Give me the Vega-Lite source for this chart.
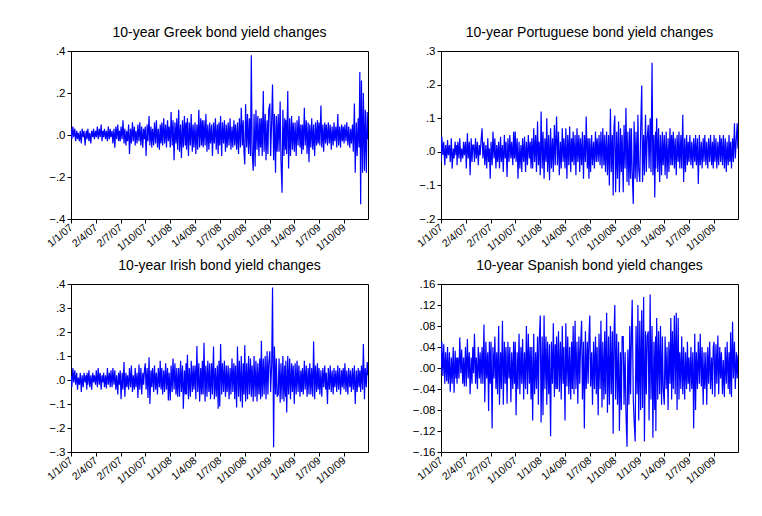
{
"$schema": "https://vega.github.io/schema/vega-lite/v6.json",
"padding": {"left": 44, "top": 25, "right": 5, "bottom": 5},
"background": "white",
"config": {
  "font": "Liberation Sans",
  "view": {"stroke": "black", "strokeWidth": 1},
  "axis": {"grid": false, "domain": false, "tickColor": "black", "tickSize": 4, "labelColor": "black", "labelFont": "Liberation Sans", "labelPadding": 2},
  "axisX": {"labelAngle": -40, "labelAlign": "right", "labelBaseline": "middle", "labelFontSize": 10.5, "labelPadding": 3, "labelOverlap": false, "labelFlush": false, "labelBound": false},
  "axisY": {"labelFontSize": 11.5},
  "title": {"fontSize": 14, "fontWeight": "normal", "color": "black", "offset": 5, "font": "Liberation Sans"},
  "line": {"color": "#0000FF", "strokeWidth": 1.2}
},
"columns": 2,
"spacing": {"row": 4, "column": 42},
"data": {"values": [
{"d":"2007-01-01","g":0.03,"p":-0.03,"i":0.02,"s":-0.01},
{"d":"2007-01-04","g":-0.02,"p":0.045,"i":-0.03,"s":0.05},
{"d":"2007-01-08","g":0.04,"p":-0.01,"i":0.05,"s":-0.015},
{"d":"2007-01-11","g":-0.01,"p":0.03,"i":-0.01,"s":0.045},
{"d":"2007-01-15","g":0.03,"p":-0.04,"i":0.04,"s":-0.03},
{"d":"2007-01-18","g":-0.03,"p":0.02,"i":-0.02,"s":0.03},
{"d":"2007-01-22","g":0.02,"p":-0.02,"i":0.03,"s":-0.025},
{"d":"2007-01-25","g":-0.02,"p":0.035,"i":-0.04,"s":0.04},
{"d":"2007-01-28","g":0.01,"p":-0.01,"i":0.01,"s":-0.03},
{"d":"2007-02-01","g":-0.03,"p":0.02,"i":-0.02,"s":0.03},
{"d":"2007-02-04","g":0.02,"p":-0.03,"i":0.03,"s":-0.045},
{"d":"2007-02-08","g":-0.04,"p":0.04,"i":-0.05,"s":0.02},
{"d":"2007-02-11","g":0.03,"p":-0.05,"i":0.02,"s":-0.03},
{"d":"2007-02-15","g":-0.01,"p":0.01,"i":-0.03,"s":0.04},
{"d":"2007-02-18","g":0.02,"p":-0.02,"i":0.03,"s":-0.047},
{"d":"2007-02-22","g":-0.05,"p":0.03,"i":-0.01,"s":0.033},
{"d":"2007-02-25","g":0.01,"p":-0.01,"i":0.02,"s":-0.02},
{"d":"2007-02-28","g":0.02,"p":0.02,"i":-0.04,"s":0.02},
{"d":"2007-03-01","g":-0.02,"p":-0.04,"i":0.03,"s":-0.03},
{"d":"2007-03-04","g":0.03,"p":0.03,"i":-0.02,"s":0.02},
{"d":"2007-03-08","g":-0.03,"p":-0.02,"i":0.04,"s":-0.02},
{"d":"2007-03-11","g":0.01,"p":0.04,"i":-0.03,"s":0.058},
{"d":"2007-03-15","g":-0.04,"p":-0.03,"i":0.02,"s":-0.01},
{"d":"2007-03-18","g":0.02,"p":0.01,"i":-0.04,"s":0.035},
{"d":"2007-03-22","g":-0.01,"p":-0.02,"i":0.03,"s":-0.03},
{"d":"2007-03-25","g":0.03,"p":0.03,"i":-0.01,"s":0.02},
{"d":"2007-03-28","g":-0.02,"p":-0.01,"i":0.02,"s":-0.035},
{"d":"2007-04-01","g":0.02,"p":0.03,"i":-0.02,"s":0.04},
{"d":"2007-04-04","g":-0.01,"p":-0.05,"i":0.04,"s":-0.035},
{"d":"2007-04-08","g":0.04,"p":0.055,"i":-0.03,"s":0.055},
{"d":"2007-04-11","g":-0.02,"p":-0.02,"i":0.05,"s":-0.02},
{"d":"2007-04-15","g":0.03,"p":0.03,"i":-0.02,"s":0.03},
{"d":"2007-04-18","g":-0.01,"p":-0.07,"i":0.03,"s":-0.05},
{"d":"2007-04-22","g":0.05,"p":0.04,"i":-0.04,"s":0.02},
{"d":"2007-04-25","g":-0.03,"p":-0.03,"i":0.02,"s":-0.03},
{"d":"2007-04-28","g":0.02,"p":0.02,"i":-0.01,"s":0.04},
{"d":"2007-05-01","g":-0.01,"p":0.02,"i":0.03,"s":-0.01},
{"d":"2007-05-04","g":0.03,"p":-0.03,"i":-0.03,"s":0.065},
{"d":"2007-05-08","g":-0.02,"p":0.04,"i":0.02,"s":-0.03},
{"d":"2007-05-11","g":0.02,"p":-0.02,"i":-0.035,"s":0.02},
{"d":"2007-05-15","g":-0.03,"p":0.03,"i":0.05,"s":-0.04},
{"d":"2007-05-18","g":0.04,"p":-0.04,"i":-0.02,"s":0.04},
{"d":"2007-05-22","g":-0.02,"p":0.02,"i":0.03,"s":-0.02},
{"d":"2007-05-25","g":0.03,"p":-0.01,"i":-0.03,"s":0.03},
{"d":"2007-05-28","g":-0.01,"p":0.03,"i":0.04,"s":-0.03},
{"d":"2007-06-01","g":0.02,"p":0.07,"i":-0.03,"s":0.04},
{"d":"2007-06-04","g":-0.04,"p":-0.02,"i":0.05,"s":-0.03},
{"d":"2007-06-08","g":0.03,"p":0.03,"i":-0.02,"s":0.083},
{"d":"2007-06-11","g":-0.06,"p":-0.04,"i":0.04,"s":-0.065},
{"d":"2007-06-15","g":0.04,"p":0.02,"i":-0.04,"s":0.05},
{"d":"2007-06-18","g":-0.02,"p":-0.05,"i":0.02,"s":-0.02},
{"d":"2007-06-22","g":0.05,"p":0.04,"i":-0.06,"s":0.03},
{"d":"2007-06-25","g":-0.03,"p":-0.03,"i":0.03,"s":-0.082},
{"d":"2007-06-28","g":0.02,"p":0.01,"i":-0.02,"s":0.05},
{"d":"2007-07-01","g":-0.03,"p":-0.08,"i":0.04,"s":-0.03},
{"d":"2007-07-04","g":0.04,"p":0.03,"i":-0.08,"s":0.05},
{"d":"2007-07-08","g":-0.02,"p":-0.04,"i":0.03,"s":-0.115},
{"d":"2007-07-11","g":0.07,"p":0.06,"i":-0.04,"s":0.04},
{"d":"2007-07-15","g":-0.04,"p":-0.02,"i":0.075,"s":-0.02},
{"d":"2007-07-18","g":0.03,"p":0.04,"i":-0.07,"s":0.06},
{"d":"2007-07-22","g":-0.05,"p":-0.05,"i":0.03,"s":-0.04},
{"d":"2007-07-25","g":0.02,"p":0.02,"i":-0.03,"s":0.03},
{"d":"2007-07-28","g":-0.03,"p":-0.03,"i":0.02,"s":-0.05},
{"d":"2007-08-01","g":0.05,"p":0.03,"i":-0.04,"s":0.08},
{"d":"2007-08-04","g":-0.09,"p":-0.05,"i":0.05,"s":-0.07},
{"d":"2007-08-08","g":0.03,"p":0.045,"i":-0.03,"s":0.03},
{"d":"2007-08-11","g":-0.04,"p":-0.03,"i":0.06,"s":-0.04},
{"d":"2007-08-15","g":0.06,"p":0.02,"i":-0.05,"s":0.09},
{"d":"2007-08-18","g":-0.03,"p":-0.06,"i":0.02,"s":-0.07},
{"d":"2007-08-22","g":0.04,"p":0.05,"i":-0.04,"s":0.05},
{"d":"2007-08-25","g":-0.05,"p":-0.02,"i":0.05,"s":-0.03},
{"d":"2007-08-28","g":0.02,"p":0.03,"i":-0.03,"s":0.04},
{"d":"2007-09-01","g":-0.04,"p":-0.075,"i":0.03,"s":-0.068},
{"d":"2007-09-04","g":0.05,"p":0.04,"i":-0.075,"s":0.05},
{"d":"2007-09-08","g":-0.03,"p":-0.03,"i":0.065,"s":-0.02},
{"d":"2007-09-11","g":0.06,"p":0.05,"i":-0.04,"s":0.04},
{"d":"2007-09-15","g":-0.05,"p":-0.02,"i":0.05,"s":-0.065},
{"d":"2007-09-18","g":0.04,"p":0.03,"i":-0.06,"s":0.03},
{"d":"2007-09-22","g":-0.06,"p":-0.04,"i":0.03,"s":-0.04},
{"d":"2007-09-25","g":0.03,"p":0.06,"i":-0.02,"s":0.05},
{"d":"2007-09-28","g":-0.02,"p":-0.02,"i":0.04,"s":-0.03},
{"d":"2007-10-01","g":0.04,"p":0.06,"i":0.07,"s":0.05},
{"d":"2007-10-04","g":-0.1,"p":-0.03,"i":-0.04,"s":-0.09},
{"d":"2007-10-08","g":0.05,"p":0.04,"i":0.05,"s":0.03},
{"d":"2007-10-11","g":-0.03,"p":-0.08,"i":-0.075,"s":-0.04},
{"d":"2007-10-15","g":0.09,"p":0.03,"i":0.095,"s":0.065},
{"d":"2007-10-18","g":-0.05,"p":-0.05,"i":-0.1,"s":-0.05},
{"d":"2007-10-22","g":0.04,"p":0.02,"i":0.04,"s":0.04},
{"d":"2007-10-25","g":-0.06,"p":-0.06,"i":-0.03,"s":-0.03},
{"d":"2007-10-28","g":0.03,"p":0.04,"i":0.05,"s":0.055},
{"d":"2007-11-01","g":-0.05,"p":-0.03,"i":-0.05,"s":-0.06},
{"d":"2007-11-04","g":0.06,"p":0.045,"i":0.06,"s":0.03},
{"d":"2007-11-08","g":-0.04,"p":-0.06,"i":-0.04,"s":-0.04},
{"d":"2007-11-11","g":0.07,"p":0.03,"i":0.03,"s":0.08},
{"d":"2007-11-15","g":-0.06,"p":-0.04,"i":-0.06,"s":-0.05},
{"d":"2007-11-18","g":0.03,"p":0.05,"i":0.05,"s":0.065},
{"d":"2007-11-22","g":-0.07,"p":-0.02,"i":-0.03,"s":-0.03},
{"d":"2007-11-25","g":0.05,"p":0.03,"i":0.08,"s":0.04},
{"d":"2007-11-28","g":-0.04,"p":-0.05,"i":-0.04,"s":-0.06},
{"d":"2007-12-01","g":0.06,"p":0.04,"i":0.05,"s":0.04},
{"d":"2007-12-04","g":-0.05,"p":-0.05,"i":-0.06,"s":-0.1},
{"d":"2007-12-08","g":0.08,"p":0.07,"i":0.04,"s":0.065},
{"d":"2007-12-11","g":-0.04,"p":-0.03,"i":-0.05,"s":-0.05},
{"d":"2007-12-15","g":0.05,"p":0.05,"i":0.07,"s":0.03},
{"d":"2007-12-18","g":-0.06,"p":-0.06,"i":-0.04,"s":-0.04},
{"d":"2007-12-22","g":0.07,"p":0.09,"i":0.05,"s":0.06},
{"d":"2007-12-25","g":-0.03,"p":-0.04,"i":-0.085,"s":-0.07},
{"d":"2007-12-28","g":0.04,"p":0.03,"i":0.03,"s":0.05},
{"d":"2008-01-01","g":-0.06,"p":-0.07,"i":-0.085,"s":0.1},
{"d":"2008-01-04","g":0.11,"p":0.12,"i":0.06,"s":-0.104},
{"d":"2008-01-08","g":-0.05,"p":-0.05,"i":-0.05,"s":0.06},
{"d":"2008-01-11","g":0.07,"p":0.06,"i":0.09,"s":-0.09},
{"d":"2008-01-15","g":-0.12,"p":-0.08,"i":-0.04,"s":0.1},
{"d":"2008-01-18","g":0.06,"p":0.04,"i":0.07,"s":-0.04},
{"d":"2008-01-22","g":-0.04,"p":-0.03,"i":-0.06,"s":0.06},
{"d":"2008-01-25","g":0.08,"p":0.1,"i":0.05,"s":-0.07},
{"d":"2008-01-28","g":-0.07,"p":-0.06,"i":-0.07,"s":0.05},
{"d":"2008-02-01","g":0.12,"p":0.05,"i":0.05,"s":-0.05},
{"d":"2008-02-04","g":-0.08,"p":-0.085,"i":-0.07,"s":0.045},
{"d":"2008-02-08","g":0.05,"p":0.07,"i":0.08,"s":-0.13},
{"d":"2008-02-11","g":-0.11,"p":-0.05,"i":-0.05,"s":0.05},
{"d":"2008-02-15","g":0.07,"p":0.04,"i":0.06,"s":-0.03},
{"d":"2008-02-18","g":-0.06,"p":-0.06,"i":-0.12,"s":0.085},
{"d":"2008-02-22","g":0.09,"p":0.08,"i":0.04,"s":-0.055},
{"d":"2008-02-25","g":-0.05,"p":-0.04,"i":-0.06,"s":0.045},
{"d":"2008-02-28","g":0.06,"p":0.05,"i":0.07,"s":-0.04},
{"d":"2008-03-01","g":-0.07,"p":0.105,"i":-0.06,"s":0.06},
{"d":"2008-03-04","g":0.08,"p":-0.04,"i":0.105,"s":-0.04},
{"d":"2008-03-08","g":-0.1,"p":0.06,"i":-0.08,"s":0.07},
{"d":"2008-03-11","g":0.06,"p":-0.07,"i":0.05,"s":-0.045},
{"d":"2008-03-15","g":-0.05,"p":0.03,"i":-0.07,"s":0.05},
{"d":"2008-03-18","g":0.1,"p":-0.05,"i":0.08,"s":-0.06},
{"d":"2008-03-22","g":-0.08,"p":0.07,"i":-0.05,"s":0.08},
{"d":"2008-03-25","g":0.05,"p":-0.03,"i":0.06,"s":-0.03},
{"d":"2008-03-28","g":-0.06,"p":0.04,"i":-0.04,"s":0.04},
{"d":"2008-04-01","g":0.06,"p":-0.05,"i":0.06,"s":-0.1},
{"d":"2008-04-04","g":-0.09,"p":0.07,"i":-0.08,"s":0.085},
{"d":"2008-04-08","g":0.05,"p":-0.08,"i":0.142,"s":-0.035},
{"d":"2008-04-11","g":-0.07,"p":0.05,"i":-0.05,"s":0.06},
{"d":"2008-04-15","g":0.12,"p":-0.04,"i":0.07,"s":-0.05},
{"d":"2008-04-18","g":-0.06,"p":0.075,"i":-0.09,"s":0.04},
{"d":"2008-04-22","g":0.08,"p":-0.06,"i":0.05,"s":-0.06},
{"d":"2008-04-25","g":-0.05,"p":0.04,"i":-0.06,"s":0.05},
{"d":"2008-04-28","g":0.07,"p":-0.03,"i":0.08,"s":-0.04},
{"d":"2008-05-01","g":-0.06,"p":0.06,"i":-0.06,"s":0.08},
{"d":"2008-05-04","g":0.07,"p":-0.04,"i":0.155,"s":-0.05},
{"d":"2008-05-08","g":-0.05,"p":0.05,"i":-0.09,"s":0.09},
{"d":"2008-05-11","g":0.1,"p":-0.07,"i":0.06,"s":-0.04},
{"d":"2008-05-15","g":-0.08,"p":0.07,"i":-0.07,"s":0.05},
{"d":"2008-05-18","g":0.05,"p":-0.03,"i":0.08,"s":-0.068},
{"d":"2008-05-22","g":-0.07,"p":0.05,"i":-0.05,"s":0.06},
{"d":"2008-05-25","g":0.06,"p":-0.06,"i":0.07,"s":-0.03},
{"d":"2008-05-28","g":-0.04,"p":0.04,"i":-0.08,"s":0.04},
{"d":"2008-06-01","g":0.05,"p":-0.04,"i":0.07,"s":0.09},
{"d":"2008-06-04","g":-0.1,"p":0.06,"i":-0.06,"s":-0.06},
{"d":"2008-06-08","g":0.06,"p":-0.08,"i":0.14,"s":0.05},
{"d":"2008-06-11","g":-0.04,"p":0.05,"i":-0.08,"s":-0.115},
{"d":"2008-06-15","g":0.08,"p":-0.03,"i":0.05,"s":0.07},
{"d":"2008-06-18","g":-0.07,"p":0.105,"i":-0.07,"s":-0.04},
{"d":"2008-06-22","g":0.05,"p":-0.05,"i":0.06,"s":0.05},
{"d":"2008-06-25","g":-0.09,"p":0.04,"i":-0.12,"s":-0.03},
{"d":"2008-06-28","g":0.06,"p":-0.08,"i":0.08,"s":0.06},
{"d":"2008-07-01","g":-0.05,"p":0.04,"i":-0.11,"s":0.1},
{"d":"2008-07-04","g":0.09,"p":-0.06,"i":0.15,"s":-0.035},
{"d":"2008-07-08","g":-0.1,"p":0.05,"i":-0.06,"s":0.03},
{"d":"2008-07-11","g":0.06,"p":-0.04,"i":0.07,"s":-0.07},
{"d":"2008-07-15","g":-0.04,"p":0.03,"i":-0.05,"s":0.05},
{"d":"2008-07-18","g":0.07,"p":-0.05,"i":0.08,"s":-0.04},
{"d":"2008-07-22","g":-0.08,"p":0.06,"i":-0.07,"s":0.06},
{"d":"2008-07-25","g":0.05,"p":-0.03,"i":0.06,"s":-0.05},
{"d":"2008-07-28","g":-0.06,"p":0.04,"i":-0.05,"s":0.04},
{"d":"2008-08-01","g":0.06,"p":-0.03,"i":0.06,"s":-0.09},
{"d":"2008-08-04","g":-0.05,"p":0.05,"i":-0.08,"s":0.065},
{"d":"2008-08-08","g":0.08,"p":-0.04,"i":0.05,"s":-0.04},
{"d":"2008-08-11","g":-0.07,"p":0.06,"i":-0.06,"s":0.09},
{"d":"2008-08-15","g":0.04,"p":-0.05,"i":0.09,"s":-0.075},
{"d":"2008-08-18","g":-0.06,"p":0.07,"i":-0.05,"s":0.05},
{"d":"2008-08-22","g":0.07,"p":-0.04,"i":0.07,"s":-0.06},
{"d":"2008-08-25","g":-0.05,"p":0.05,"i":-0.08,"s":0.07},
{"d":"2008-08-28","g":0.05,"p":-0.06,"i":0.06,"s":-0.05},
{"d":"2008-09-01","g":-0.07,"p":0.06,"i":-0.115,"s":0.105},
{"d":"2008-09-04","g":0.06,"p":-0.07,"i":0.14,"s":-0.085},
{"d":"2008-09-08","g":-0.09,"p":0.05,"i":-0.07,"s":0.06},
{"d":"2008-09-11","g":0.08,"p":-0.1,"i":0.08,"s":-0.07},
{"d":"2008-09-15","g":-0.06,"p":0.128,"i":-0.09,"s":0.08},
{"d":"2008-09-18","g":0.13,"p":-0.06,"i":0.1,"s":-0.05},
{"d":"2008-09-22","g":-0.05,"p":0.05,"i":-0.115,"s":0.07},
{"d":"2008-09-25","g":0.07,"p":-0.13,"i":0.07,"s":-0.125},
{"d":"2008-09-28","g":-0.08,"p":0.07,"i":-0.06,"s":0.06},
{"d":"2008-10-01","g":-0.14,"p":0.108,"i":0.145,"s":0.12},
{"d":"2008-10-04","g":0.146,"p":-0.12,"i":-0.09,"s":-0.06},
{"d":"2008-10-08","g":-0.06,"p":0.06,"i":0.07,"s":0.065},
{"d":"2008-10-11","g":0.1,"p":-0.08,"i":-0.08,"s":-0.07},
{"d":"2008-10-15","g":-0.09,"p":0.09,"i":0.1,"s":0.05},
{"d":"2008-10-18","g":0.08,"p":-0.12,"i":-0.06,"s":-0.12},
{"d":"2008-10-22","g":-0.1,"p":0.07,"i":0.09,"s":0.03},
{"d":"2008-10-25","g":0.38,"p":-0.06,"i":-0.07,"s":-0.08},
{"d":"2008-10-28","g":-0.08,"p":0.05,"i":0.06,"s":0.06},
{"d":"2008-11-01","g":-0.17,"p":-0.12,"i":-0.09,"s":0.06},
{"d":"2008-11-04","g":0.1,"p":0.08,"i":0.1,"s":-0.07},
{"d":"2008-11-08","g":-0.15,"p":-0.05,"i":-0.07,"s":0.03},
{"d":"2008-11-11","g":0.12,"p":0.13,"i":0.08,"s":-0.085},
{"d":"2008-11-15","g":-0.07,"p":-0.09,"i":-0.09,"s":-0.15},
{"d":"2008-11-18","g":0.09,"p":0.06,"i":0.07,"s":0.035},
{"d":"2008-11-22","g":-0.1,"p":-0.1,"i":-0.06,"s":-0.07},
{"d":"2008-11-25","g":0.08,"p":0.07,"i":0.09,"s":0.08},
{"d":"2008-11-28","g":-0.06,"p":-0.08,"i":-0.08,"s":-0.05},
{"d":"2008-12-01","g":0.08,"p":0.07,"i":0.163,"s":0.06},
{"d":"2008-12-04","g":-0.1,"p":-0.06,"i":-0.07,"s":0.13},
{"d":"2008-12-08","g":0.21,"p":-0.155,"i":0.09,"s":-0.06},
{"d":"2008-12-11","g":-0.08,"p":0.09,"i":-0.06,"s":-0.1},
{"d":"2008-12-15","g":0.1,"p":-0.08,"i":0.1,"s":-0.14},
{"d":"2008-12-18","g":-0.12,"p":0.06,"i":-0.08,"s":0.08},
{"d":"2008-12-22","g":0.07,"p":-0.09,"i":0.12,"s":-0.05},
{"d":"2008-12-25","g":-0.09,"p":0.11,"i":-0.06,"s":0.12},
{"d":"2008-12-28","g":0.12,"p":-0.05,"i":0.07,"s":-0.1},
{"d":"2009-01-01","g":0.15,"p":-0.09,"i":0.12,"s":0.09},
{"d":"2009-01-04","g":-0.1,"p":0.06,"i":-0.05,"s":-0.08},
{"d":"2009-01-08","g":0.08,"p":0.197,"i":0.07,"s":0.11},
{"d":"2009-01-11","g":0.24,"p":-0.09,"i":0.385,"s":-0.076},
{"d":"2009-01-15","g":-0.12,"p":0.05,"i":-0.28,"s":0.135},
{"d":"2009-01-18","g":0.1,"p":-0.07,"i":0.14,"s":-0.14},
{"d":"2009-01-22","g":-0.18,"p":0.11,"i":-0.06,"s":0.07},
{"d":"2009-01-25","g":0.09,"p":-0.06,"i":0.09,"s":-0.05},
{"d":"2009-01-28","g":-0.08,"p":0.04,"i":-0.07,"s":0.06},
{"d":"2009-02-01","g":0.1,"p":0.08,"i":-0.06,"s":0.07},
{"d":"2009-02-04","g":-0.08,"p":-0.05,"i":0.09,"s":-0.1},
{"d":"2009-02-08","g":0.16,"p":0.1,"i":-0.095,"s":0.14},
{"d":"2009-02-11","g":-0.12,"p":-0.06,"i":0.07,"s":-0.06},
{"d":"2009-02-15","g":-0.275,"p":0.265,"i":-0.08,"s":0.08},
{"d":"2009-02-18","g":0.12,"p":-0.07,"i":0.1,"s":-0.133},
{"d":"2009-02-22","g":-0.1,"p":0.05,"i":-0.09,"s":0.05},
{"d":"2009-02-25","g":0.08,"p":-0.136,"i":0.06,"s":-0.08},
{"d":"2009-02-28","g":-0.07,"p":0.06,"i":-0.07,"s":0.06},
{"d":"2009-03-01","g":0.07,"p":-0.05,"i":0.08,"s":-0.12},
{"d":"2009-03-04","g":-0.09,"p":0.1,"i":-0.135,"s":0.095},
{"d":"2009-03-08","g":0.21,"p":-0.06,"i":0.1,"s":-0.06},
{"d":"2009-03-11","g":-0.16,"p":0.07,"i":-0.06,"s":0.07},
{"d":"2009-03-15","g":0.08,"p":-0.09,"i":0.09,"s":-0.05},
{"d":"2009-03-18","g":-0.1,"p":0.05,"i":-0.08,"s":0.08},
{"d":"2009-03-22","g":0.09,"p":-0.07,"i":0.07,"s":-0.07},
{"d":"2009-03-25","g":-0.07,"p":0.06,"i":-0.05,"s":0.06},
{"d":"2009-03-28","g":0.06,"p":-0.04,"i":0.06,"s":-0.04},
{"d":"2009-04-01","g":-0.08,"p":0.05,"i":-0.1,"s":-0.07},
{"d":"2009-04-04","g":0.06,"p":-0.07,"i":0.07,"s":0.06},
{"d":"2009-04-08","g":-0.1,"p":0.06,"i":-0.06,"s":-0.04},
{"d":"2009-04-11","g":0.07,"p":-0.08,"i":0.08,"s":0.04},
{"d":"2009-04-15","g":-0.05,"p":0.04,"i":-0.05,"s":-0.08},
{"d":"2009-04-18","g":0.09,"p":-0.06,"i":0.06,"s":0.05},
{"d":"2009-04-22","g":-0.06,"p":0.07,"i":-0.07,"s":-0.03},
{"d":"2009-04-25","g":0.05,"p":-0.04,"i":0.04,"s":0.095},
{"d":"2009-04-28","g":-0.09,"p":0.05,"i":-0.05,"s":-0.06},
{"d":"2009-05-01","g":0.05,"p":-0.04,"i":0.05,"s":0.07},
{"d":"2009-05-04","g":-0.07,"p":0.06,"i":-0.06,"s":-0.04},
{"d":"2009-05-08","g":0.13,"p":-0.05,"i":0.08,"s":0.1},
{"d":"2009-05-11","g":-0.05,"p":0.04,"i":-0.04,"s":-0.05},
{"d":"2009-05-15","g":0.07,"p":-0.07,"i":0.06,"s":0.105},
{"d":"2009-05-18","g":-0.09,"p":0.05,"i":-0.07,"s":-0.08},
{"d":"2009-05-22","g":0.06,"p":-0.03,"i":0.05,"s":0.095},
{"d":"2009-05-25","g":-0.13,"p":0.06,"i":-0.06,"s":-0.06},
{"d":"2009-05-28","g":0.05,"p":-0.05,"i":0.07,"s":0.03},
{"d":"2009-06-01","g":-0.06,"p":0.05,"i":-0.06,"s":-0.04},
{"d":"2009-06-04","g":0.08,"p":-0.05,"i":0.05,"s":0.06},
{"d":"2009-06-08","g":-0.07,"p":0.11,"i":-0.07,"s":-0.05},
{"d":"2009-06-11","g":0.05,"p":-0.09,"i":0.16,"s":0.04},
{"d":"2009-06-15","g":-0.1,"p":0.04,"i":-0.08,"s":-0.06},
{"d":"2009-06-18","g":0.06,"p":-0.06,"i":0.06,"s":0.03},
{"d":"2009-06-22","g":-0.05,"p":0.05,"i":-0.05,"s":-0.04},
{"d":"2009-06-25","g":0.07,"p":-0.04,"i":0.07,"s":0.05},
{"d":"2009-06-28","g":-0.04,"p":0.03,"i":-0.04,"s":-0.03},
{"d":"2009-07-01","g":0.06,"p":-0.03,"i":0.05,"s":0.02},
{"d":"2009-07-04","g":-0.05,"p":0.05,"i":-0.06,"s":-0.045},
{"d":"2009-07-08","g":0.14,"p":-0.04,"i":0.04,"s":0.04},
{"d":"2009-07-11","g":-0.06,"p":0.03,"i":-0.07,"s":-0.04},
{"d":"2009-07-15","g":0.05,"p":-0.05,"i":0.05,"s":0.03},
{"d":"2009-07-18","g":-0.08,"p":0.04,"i":-0.03,"s":-0.115},
{"d":"2009-07-22","g":0.06,"p":-0.03,"i":0.06,"s":0.065},
{"d":"2009-07-25","g":-0.04,"p":0.05,"i":-0.04,"s":-0.08},
{"d":"2009-07-28","g":0.05,"p":-0.04,"i":0.03,"s":0.03},
{"d":"2009-08-01","g":-0.05,"p":0.04,"i":-0.1,"s":-0.04},
{"d":"2009-08-04","g":0.06,"p":-0.096,"i":0.05,"s":0.05},
{"d":"2009-08-08","g":-0.04,"p":0.05,"i":-0.04,"s":-0.03},
{"d":"2009-08-11","g":0.05,"p":-0.04,"i":0.06,"s":0.065},
{"d":"2009-08-15","g":-0.07,"p":0.03,"i":-0.05,"s":-0.035},
{"d":"2009-08-18","g":0.04,"p":-0.05,"i":0.04,"s":0.04},
{"d":"2009-08-22","g":-0.05,"p":0.04,"i":-0.06,"s":-0.07},
{"d":"2009-08-25","g":0.06,"p":-0.03,"i":0.05,"s":0.03},
{"d":"2009-08-28","g":-0.03,"p":0.05,"i":-0.03,"s":-0.04},
{"d":"2009-09-01","g":0.04,"p":-0.04,"i":0.04,"s":0.03},
{"d":"2009-09-04","g":-0.06,"p":0.03,"i":-0.05,"s":-0.07},
{"d":"2009-09-08","g":0.1,"p":-0.05,"i":0.06,"s":0.04},
{"d":"2009-09-11","g":-0.05,"p":0.04,"i":-0.04,"s":-0.03},
{"d":"2009-09-15","g":0.04,"p":-0.03,"i":0.05,"s":0.05},
{"d":"2009-09-18","g":-0.06,"p":0.05,"i":-0.06,"s":-0.04},
{"d":"2009-09-22","g":0.05,"p":-0.04,"i":0.04,"s":0.02},
{"d":"2009-09-25","g":-0.03,"p":0.03,"i":-0.03,"s":-0.05},
{"d":"2009-09-28","g":0.04,"p":-0.05,"i":0.05,"s":0.04},
{"d":"2009-10-01","g":-0.04,"p":0.05,"i":-0.04,"s":0.05},
{"d":"2009-10-04","g":0.05,"p":-0.03,"i":0.07,"s":-0.055},
{"d":"2009-10-08","g":-0.03,"p":0.04,"i":-0.05,"s":0.045},
{"d":"2009-10-11","g":0.06,"p":-0.05,"i":0.04,"s":-0.03},
{"d":"2009-10-15","g":-0.05,"p":0.03,"i":-0.06,"s":0.062},
{"d":"2009-10-18","g":0.04,"p":-0.04,"i":0.05,"s":-0.05},
{"d":"2009-10-22","g":-0.06,"p":0.05,"i":-0.03,"s":0.04},
{"d":"2009-10-25","g":0.03,"p":-0.03,"i":0.04,"s":-0.02},
{"d":"2009-10-28","g":-0.04,"p":0.04,"i":-0.05,"s":0.03},
{"d":"2009-11-01","g":0.05,"p":-0.04,"i":0.05,"s":-0.05},
{"d":"2009-11-04","g":-0.08,"p":0.05,"i":-0.04,"s":0.015},
{"d":"2009-11-08","g":0.15,"p":-0.05,"i":0.06,"s":-0.055},
{"d":"2009-11-11","g":-0.18,"p":0.04,"i":-0.1,"s":0.04},
{"d":"2009-11-15","g":0.06,"p":-0.06,"i":0.04,"s":-0.03},
{"d":"2009-11-18","g":-0.1,"p":0.03,"i":-0.05,"s":0.05},
{"d":"2009-11-22","g":0.08,"p":-0.04,"i":0.05,"s":-0.04},
{"d":"2009-11-25","g":-0.06,"p":0.05,"i":-0.03,"s":0.03},
{"d":"2009-11-28","g":0.3,"p":-0.03,"i":0.04,"s":-0.05},
{"d":"2009-12-01","g":-0.33,"p":0.03,"i":-0.05,"s":0.068},
{"d":"2009-12-04","g":0.26,"p":-0.05,"i":0.06,"s":-0.055},
{"d":"2009-12-08","g":-0.18,"p":0.04,"i":-0.04,"s":0.088},
{"d":"2009-12-11","g":0.2,"p":-0.03,"i":0.15,"s":-0.02},
{"d":"2009-12-15","g":-0.17,"p":0.085,"i":-0.08,"s":0.05},
{"d":"2009-12-18","g":0.12,"p":-0.02,"i":0.05,"s":-0.04},
{"d":"2009-12-22","g":-0.18,"p":0.04,"i":-0.03,"s":0.03},
{"d":"2009-12-25","g":0.11,"p":0.085,"i":0.075,"s":-0.02},
{"d":"2009-12-28","g":-0.02,"p":0.01,"i":0.02,"s":0.025}
]},
"concat": [
{
  "title": "10-year Greek bond yield changes",
  "width": 297, "height": 168,
  "mark": {"type": "line", "clip": true},
  "encoding": {
    "x": {"field": "d", "type": "temporal", "title": null,
      "scale": {"type": "utc", "domain": [{"year": 2007, "month": 1, "date": 1, "utc": true}, {"year": 2009, "month": 12, "date": 28, "utc": true}]},
      "axis": {"values": [{"year":2007,"month":1,"date":1,"utc":true},{"year":2007,"month":4,"date":2,"utc":true},{"year":2007,"month":7,"date":2,"utc":true},{"year":2007,"month":10,"date":1,"utc":true},{"year":2008,"month":1,"date":1,"utc":true},{"year":2008,"month":4,"date":1,"utc":true},{"year":2008,"month":7,"date":1,"utc":true},{"year":2008,"month":10,"date":1,"utc":true},{"year":2009,"month":1,"date":1,"utc":true},{"year":2009,"month":4,"date":1,"utc":true},{"year":2009,"month":7,"date":1,"utc":true},{"year":2009,"month":10,"date":1,"utc":true}],
        "labelExpr": "utcFormat(datum.value, '%-d/%-m/%y')"}},
    "y": {"field": "g", "type": "quantitative", "title": null,
      "scale": {"domain": [-0.4, 0.4], "nice": false, "zero": false},
      "axis": {"values": [-0.4, -0.2, 0, 0.2, 0.4], "labelExpr": "replace(format(datum.value, '.1f'), '0.', '.')"}}
  }
},
{
  "title": "10-year Portuguese bond yield changes",
  "width": 297, "height": 168,
  "mark": {"type": "line", "clip": true},
  "encoding": {
    "x": {"field": "d", "type": "temporal", "title": null,
      "scale": {"type": "utc", "domain": [{"year": 2007, "month": 1, "date": 1, "utc": true}, {"year": 2009, "month": 12, "date": 28, "utc": true}]},
      "axis": {"values": [{"year":2007,"month":1,"date":1,"utc":true},{"year":2007,"month":4,"date":2,"utc":true},{"year":2007,"month":7,"date":2,"utc":true},{"year":2007,"month":10,"date":1,"utc":true},{"year":2008,"month":1,"date":1,"utc":true},{"year":2008,"month":4,"date":1,"utc":true},{"year":2008,"month":7,"date":1,"utc":true},{"year":2008,"month":10,"date":1,"utc":true},{"year":2009,"month":1,"date":1,"utc":true},{"year":2009,"month":4,"date":1,"utc":true},{"year":2009,"month":7,"date":1,"utc":true},{"year":2009,"month":10,"date":1,"utc":true}],
        "labelExpr": "utcFormat(datum.value, '%-d/%-m/%y')"}},
    "y": {"field": "p", "type": "quantitative", "title": null,
      "scale": {"domain": [-0.2, 0.3], "nice": false, "zero": false},
      "axis": {"values": [-0.2, -0.1, 0, 0.1, 0.2, 0.3], "labelExpr": "replace(format(datum.value, '.1f'), '0.', '.')"}}
  }
},
{
  "title": "10-year Irish bond yield changes",
  "width": 297, "height": 168,
  "mark": {"type": "line", "clip": true},
  "encoding": {
    "x": {"field": "d", "type": "temporal", "title": null,
      "scale": {"type": "utc", "domain": [{"year": 2007, "month": 1, "date": 1, "utc": true}, {"year": 2009, "month": 12, "date": 28, "utc": true}]},
      "axis": {"values": [{"year":2007,"month":1,"date":1,"utc":true},{"year":2007,"month":4,"date":2,"utc":true},{"year":2007,"month":7,"date":2,"utc":true},{"year":2007,"month":10,"date":1,"utc":true},{"year":2008,"month":1,"date":1,"utc":true},{"year":2008,"month":4,"date":1,"utc":true},{"year":2008,"month":7,"date":1,"utc":true},{"year":2008,"month":10,"date":1,"utc":true},{"year":2009,"month":1,"date":1,"utc":true},{"year":2009,"month":4,"date":1,"utc":true},{"year":2009,"month":7,"date":1,"utc":true},{"year":2009,"month":10,"date":1,"utc":true}],
        "labelExpr": "utcFormat(datum.value, '%-d/%-m/%y')"}},
    "y": {"field": "i", "type": "quantitative", "title": null,
      "scale": {"domain": [-0.3, 0.4], "nice": false, "zero": false},
      "axis": {"values": [-0.3, -0.2, -0.1, 0, 0.1, 0.2, 0.3, 0.4], "labelExpr": "replace(format(datum.value, '.1f'), '0.', '.')"}}
  }
},
{
  "title": "10-year Spanish bond yield changes",
  "width": 297, "height": 168,
  "mark": {"type": "line", "clip": true},
  "encoding": {
    "x": {"field": "d", "type": "temporal", "title": null,
      "scale": {"type": "utc", "domain": [{"year": 2007, "month": 1, "date": 1, "utc": true}, {"year": 2009, "month": 12, "date": 28, "utc": true}]},
      "axis": {"values": [{"year":2007,"month":1,"date":1,"utc":true},{"year":2007,"month":4,"date":2,"utc":true},{"year":2007,"month":7,"date":2,"utc":true},{"year":2007,"month":10,"date":1,"utc":true},{"year":2008,"month":1,"date":1,"utc":true},{"year":2008,"month":4,"date":1,"utc":true},{"year":2008,"month":7,"date":1,"utc":true},{"year":2008,"month":10,"date":1,"utc":true},{"year":2009,"month":1,"date":1,"utc":true},{"year":2009,"month":4,"date":1,"utc":true},{"year":2009,"month":7,"date":1,"utc":true},{"year":2009,"month":10,"date":1,"utc":true}],
        "labelExpr": "utcFormat(datum.value, '%-d/%-m/%y')"}},
    "y": {"field": "s", "type": "quantitative", "title": null,
      "scale": {"domain": [-0.16, 0.16], "nice": false, "zero": false},
      "axis": {"values": [-0.16, -0.12, -0.08, -0.04, 0, 0.04, 0.08, 0.12, 0.16], "labelExpr": "replace(format(datum.value, '.2f'), '0.', '.')"}}
  }
}
]
}
